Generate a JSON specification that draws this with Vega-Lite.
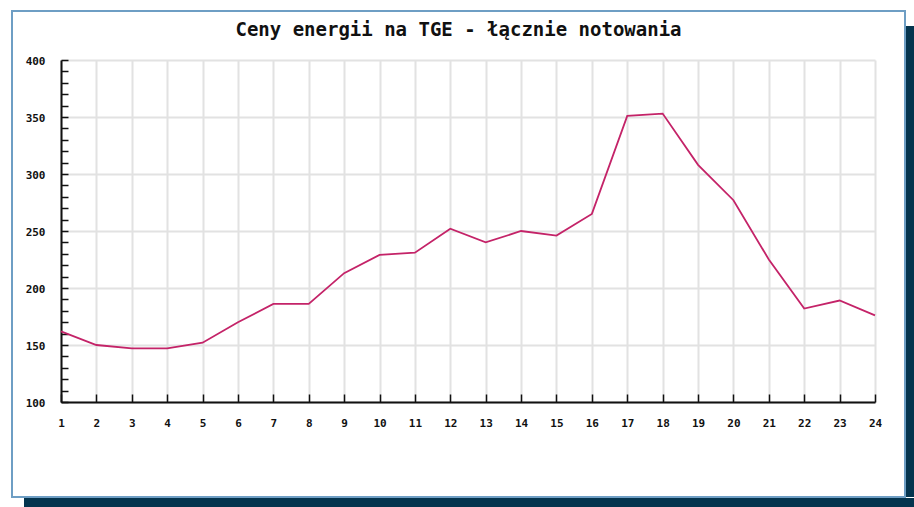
{
  "$schema": "https://vega.github.io/schema/vega-lite/v6.json",
  "width": 893,
  "height": 486,
  "autosize": {"type": "none"},
  "padding": {"left": 12, "top": 11, "right": 9, "bottom": 10},
  "background": "white",
  "config": {
    "view": {"fill": "white", "stroke": "#6e9ec4", "strokeWidth": 2}
  },
  "title": {
    "text": "Ceny energii na TGE - łącznie notowania",
    "font": "DejaVu Sans Mono",
    "fontWeight": "bold",
    "fontSize": 19,
    "color": "#111111",
    "anchor": "middle",
    "frame": "group",
    "baseline": "alphabetic",
    "offset": -44
  },
  "layer": [
    {
      "data": {"values": [{"part": "shadow-right"}]},
      "mark": {"type": "rule", "color": "#04344e", "strokeWidth": 18, "strokeCap": "butt", "xOffset": 10, "yOffset": 15, "clip": false},
      "encoding": {"x": {"value": "width"}}
    },
    {
      "data": {"values": [{"part": "shadow-bottom"}]},
      "mark": {"type": "rule", "color": "#04344e", "strokeWidth": 18, "strokeCap": "butt", "xOffset": 21, "yOffset": 10, "strokeDash": [902, 400], "clip": false},
      "encoding": {"y": {"value": "height"}}
    },
    {
      "data": {
        "values": [
          {"h": 1, "price": 162},
          {"h": 2, "price": 150},
          {"h": 3, "price": 147},
          {"h": 4, "price": 147},
          {"h": 5, "price": 152},
          {"h": 6, "price": 170},
          {"h": 7, "price": 186},
          {"h": 8, "price": 186},
          {"h": 9, "price": 213},
          {"h": 10, "price": 229},
          {"h": 11, "price": 231},
          {"h": 12, "price": 252},
          {"h": 13, "price": 240},
          {"h": 14, "price": 250},
          {"h": 15, "price": 246},
          {"h": 16, "price": 265},
          {"h": 17, "price": 351},
          {"h": 18, "price": 353},
          {"h": 19, "price": 308},
          {"h": 20, "price": 277},
          {"h": 21, "price": 225},
          {"h": 22, "price": 182},
          {"h": 23, "price": 189},
          {"h": 24, "price": 176}
        ]
      },
      "mark": {"type": "line", "color": "#c42368", "strokeWidth": 1.8},
      "encoding": {
        "x": {
          "field": "h",
          "type": "quantitative",
          "scale": {"domain": [1, 24], "range": [49, 863], "nice": false, "zero": false},
          "axis": {
            "orient": "top",
            "values": [1,2,3,4,5,6,7,8,9,10,11,12,13,14,15,16,17,18,19,20,21,22,23,24],
            "format": "d",
            "offset": -391,
            "title": null,
            "grid": true,
            "gridColor": "#e2e2e2",
            "gridWidth": 2,
            "domainColor": "#111111",
            "domainWidth": 2,
            "tickColor": "#111111",
            "tickWidth": 1.5,
            "tickSize": 8,
            "labelFont": "DejaVu Sans Mono",
            "labelFontWeight": "bold",
            "labelFontSize": 11,
            "labelColor": "#111111",
            "labelPadding": -29,
            "labelBaseline": "middle",
            "labelFlush": false,
            "labelOverlap": false
          }
        },
        "y": {
          "field": "price",
          "type": "quantitative",
          "scale": {"domain": [100, 400], "range": [391, 49], "nice": false, "zero": false},
          "axis": {
            "values": [100,110,120,130,140,150,160,170,180,190,200,210,220,230,240,250,260,270,280,290,300,310,320,330,340,350,360,370,380,390,400],
            "labelExpr": "datum.value % 50 === 0 ? datum.label : ''",
            "offset": -49,
            "title": null,
            "grid": true,
            "gridColor": "#e2e2e2",
            "gridWidth": 2,
            "gridOpacity": {"condition": {"test": "datum.value % 50 === 0", "value": 1}, "value": 0},
            "domainColor": "#111111",
            "domainWidth": 2,
            "tickColor": "#111111",
            "tickWidth": 1.5,
            "tickSize": -7,
            "labelFont": "DejaVu Sans Mono",
            "labelFontWeight": "bold",
            "labelFontSize": 11,
            "labelColor": "#111111",
            "labelPadding": 23,
            "labelOffset": 1,
            "labelFlush": false,
            "labelOverlap": false
          }
        }
      }
    }
  ]
}
